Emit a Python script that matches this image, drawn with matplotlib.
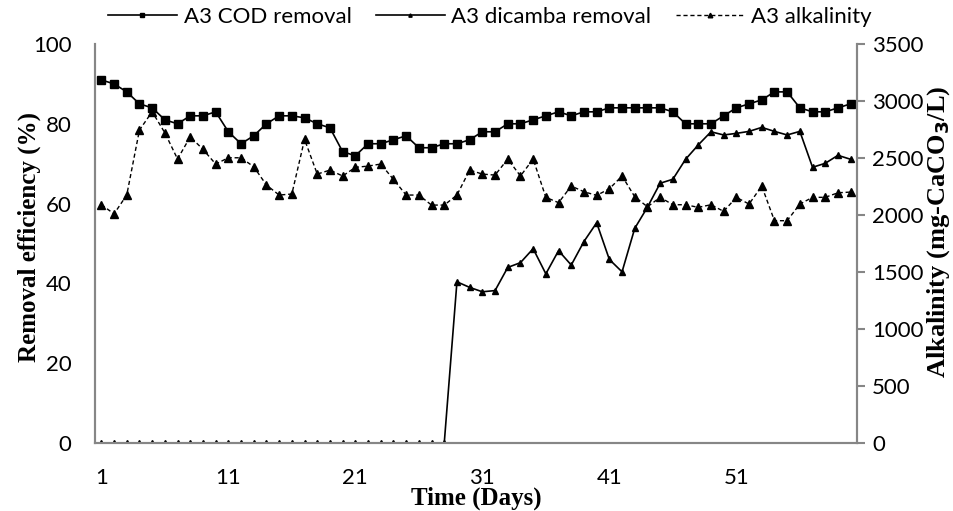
import matplotlib
matplotlib.use('Agg')
import matplotlib.pyplot as plt

days = list(range(1, 61))

cod = [91, 90, 88, 85, 84, 81, 80, 82, 82, 83,
       78, 75, 77, 80, 82, 82, 81.5, 80, 79, 73,
       72, 75, 75, 76, 77, 74, 74, 75, 75, 76,
       78, 78, 80, 80, 81, 82, 83, 82, 83, 83,
       84, 84, 84, 84, 84, 83, 80, 80, 80, 82,
       84, 85, 86, 88, 88, 84, 83, 83, 84, 85]

dicamba = [0] * 28 + [40.4, 39.0, 37.9, 38.2, 44.0, 45.2, 48.7, 42.4, 48.2, 44.6,
                      50.5, 55.2, 46.0, 42.9, 53.8, 59.1, 65.1, 66.1, 71.1, 74.7,
                      78.0, 77.2, 77.6, 78.1, 79.1, 78.1, 77.2, 78.1, 69.1, 70.1,
                      72.1, 71.1]

alkalinity = [2090, 2010, 2175, 2745, 2906, 2721, 2491, 2686, 2576, 2447,
              2502, 2502, 2423, 2263, 2175, 2184, 2663, 2359, 2394, 2342,
              2418, 2429, 2447, 2312, 2175, 2175, 2087, 2087, 2175, 2394,
              2359, 2350, 2491, 2342, 2491, 2155, 2108, 2254, 2204, 2172,
              2230, 2342, 2160, 2072, 2155, 2090, 2090, 2067, 2090, 2032,
              2155, 2096, 2254, 1950, 1950, 2096, 2155, 2155, 2195, 2201]

xtick_labels = [1, 11, 21, 31, 41, 51]

plt.rcParams['font.family'] = ['Lato', 'DejaVu Sans']
grey = '#868686'

fig = plt.figure(figsize=(9.54, 5.11), dpi=100)
ax = fig.add_axes([95/954, 1-443/511, (857-95)/954, (443-44)/511])
ax2 = ax.twinx()

l1, = ax.plot(days, cod, color='black', lw=1.2, marker='s', ms=6,
              label='A3 COD removal')
l2, = ax.plot(days, dicamba, color='black', lw=1.2, marker='^', ms=4,
              label='A3 dicamba removal')
l3, = ax2.plot(days, alkalinity, color='black', lw=1.0, ls=(0, (3, 2)),
               marker='^', ms=5.5, label='A3 alkalinity')

ax.set_xlim(0.5, 60.5)
ax.set_ylim(0, 100)
ax2.set_ylim(0, 3500)
ax.set_xticks(xtick_labels)
ax.set_yticks(range(0, 101, 20))
ax2.set_yticks(range(0, 3501, 500))

for a in (ax, ax2):
    for s in a.spines.values():
        s.set_color(grey)
        s.set_linewidth(1.5)
    a.spines['top'].set_visible(False)

ax.tick_params(axis='x', length=0, pad=18, labelsize=16)
ax.tick_params(axis='y', length=0, pad=17, labelsize=16)
ax2.tick_params(axis='y', length=6, width=1.5, color=grey, pad=5, labelsize=16)

serif = ['Liberation Serif', 'DejaVu Serif']
fig.text(29/954, 1-237/511, 'Removal efficiency (%)', rotation=90, ha='center',
         va='center', family=serif, weight='bold', fontsize=18)
fig.text(939/954, 1-232/511, 'Alkalinity (mg-CaCO$_\\mathbf{3}$/L)', rotation=90,
         ha='center', va='center', family=serif, weight='bold', fontsize=19)
fig.text(476/954, 1-498/511, 'Time (Days)', ha='center', va='center',
         family=serif, weight='bold', fontsize=18)

fig.legend(handles=[l1, l2, l3], loc='center', bbox_to_anchor=(490/954, 1-17/511),
           ncol=3, frameon=False, fontsize=16, handlelength=3.1, markerscale=0.6,
           columnspacing=1.1, handletextpad=0.3)

fig.savefig('out.png', dpi=100)
